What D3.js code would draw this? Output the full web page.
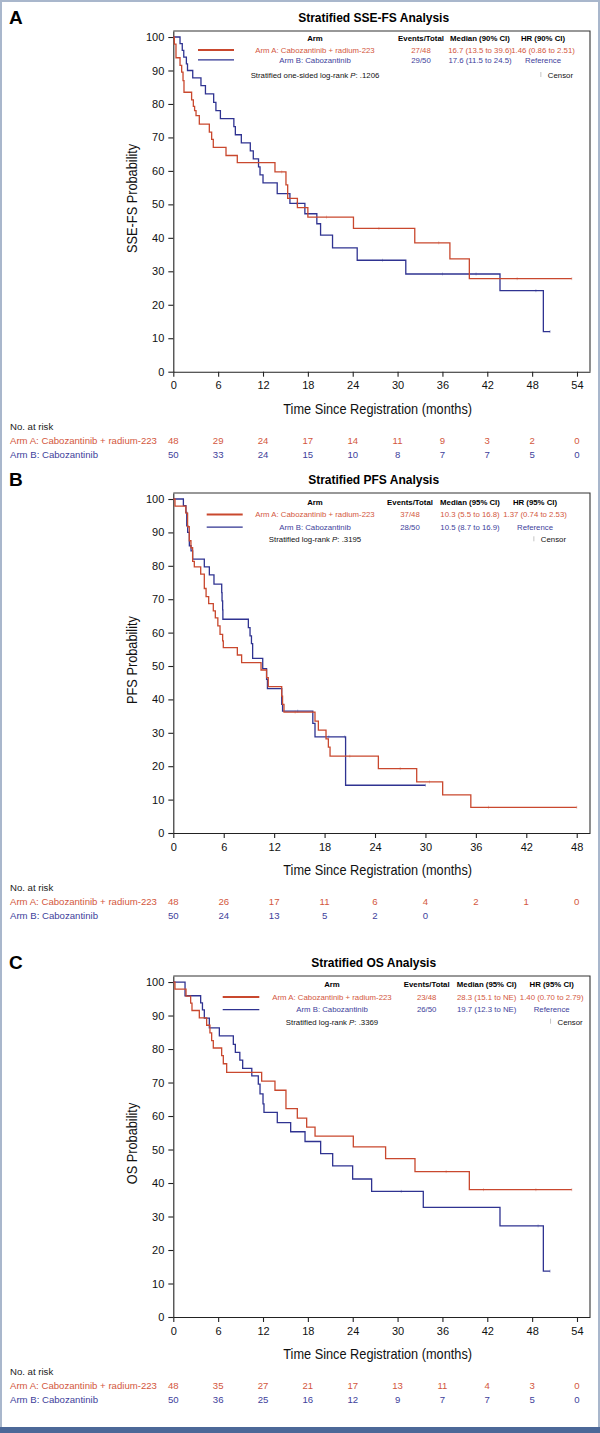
<!DOCTYPE html>
<html>
<head>
<meta charset="utf-8">
<script src="https://cdn.jsdelivr.net/npm/d3@7"></script>
<style>
  body { margin: 0; background: #fff; }
  svg { display: block; font-family: "Liberation Sans", Arial, sans-serif; }
</style>
</head>
<body>
<svg id="fig" width="600" height="1433"></svg>
<script>
// ---- data ----
const armNames = ["Arm A: Cabozantinib + radium-223", "Arm B: Cabozantinib"];
const monthsLong = [0, 6, 12, 18, 24, 30, 36, 42, 48, 54];
const monthsShort = [0, 6, 12, 18, 24, 30, 36, 42, 48];
const probTicks = [0, 10, 20, 30, 40, 50, 60, 70, 80, 90, 100];

// SSE-FS, [months, probability %], last point = end of follow-up
const sseArmA = [[0,100],[0.14,97.9],[0.36,93.8],[0.9,91.5],[1.12,89.5],[1.3,87],[1.43,83.5],[2.45,81.2],[2.68,79.3],[2.85,78],[3.04,76.5],[3.48,74],[4.82,71.6],[5.13,69.4],[5.35,67],[7.05,64.6],[8.56,62.5],[13.6,59.7],[15.07,55.8],[15.3,51.8],[16.6,49.0],[18.0,46.2],[24.1,42.8],[32.3,38.5],[37.0,33.7],[39.6,27.8],[53.3,27.8]];
const sseArmB = [[0,100],[0.9,98],[1.2,96],[1.4,94],[1.75,92],[1.9,90],[2.6,87.8],[3.7,85.5],[4.3,83],[5.4,80.5],[5.7,78],[6.3,75.6],[8.1,73.2],[8.3,70.8],[9.1,68.4],[10.3,66],[10.7,63.6],[11.4,61.2],[11.6,58.8],[12.0,56.4],[13.9,53.2],[15.6,50.3],[17.6,47.2],[19.2,44.2],[19.7,40.8],[21.3,37],[24.6,33.3],[31.1,29.2],[43.7,24.2],[49.5,12],[50.4,12]];
const sseCensA = [14.5, 20.5, 27.5, 35.5, 46, 53.3];
const sseCensB = [16.5, 28, 36, 40.5, 48.5, 50.4];
const sseRiskA = [48, 29, 24, 17, 14, 11, 9, 3, 2, 0];
const sseRiskB = [50, 33, 24, 15, 10, 8, 7, 7, 5, 0];
const sseStatsA = ["27/48", "16.7 (13.5 to 39.6)", "1.46 (0.86 to 2.51)"];
const sseStatsB = ["29/50", "17.6 (11.5 to 24.5)", "Reference"];

// PFS
const pfsArmA = [[0,100],[0.2,97.9],[1.5,95.8],[1.7,91.7],[1.9,87.5],[2.1,85.4],[2.3,81.3],[2.5,79.7],[3.26,77.5],[3.69,73.2],[3.9,70.8],[4.21,68.7],[4.76,66.5],[5.0,64.4],[5.3,62],[5.56,59.5],[5.87,57.5],[5.95,55.5],[7.62,53.3],[8.13,51],[10.44,48.8],[11.1,46.5],[11.3,43.8],[12.9,41],[13.0,38.5],[13.17,36.2],[16.86,33.5],[17.26,30.8],[18.17,28.2],[18.45,25.7],[18.65,23],[24.4,19.3],[28.96,15.3],[32.05,11.4],[35.4,7.7],[48,7.7]];
const pfsArmB = [[0,100],[1.2,98],[1.5,96],[1.6,92],[1.71,90],[1.91,86],[2.11,84.5],[2.3,82],[3.69,79.7],[4.29,77.3],[4.84,74.5],[5.76,72],[5.8,69.5],[5.87,66.8],[5.9,64],[8.93,61.5],[9.13,59],[9.3,56.7],[9.44,52.3],[10.64,49.2],[11.1,46],[11.2,43.2],[12.9,38.5],[13.0,36.5],[16.6,32.8],[16.86,28.8],[20.5,14.3],[30.0,14.3]];
const pfsCensA = [14.5, 21, 27, 30.5, 37.5, 48];
const pfsCensB = [14.8, 18.5, 20.4, 30.0];
const pfsRiskA = [48, 26, 17, 11, 6, 4, 2, 1, 0];
const pfsRiskB = [50, 24, 13, 5, 2, 0];
const pfsStatsA = ["37/48", "10.3 (5.5 to 16.8)", "1.37 (0.74 to 2.53)"];
const pfsStatsB = ["28/50", "10.5 (8.7 to 16.9)", "Reference"];

// OS
const osArmA = [[0,100],[0.22,97.9],[1.7,95.8],[2.32,93.7],[2.5,91.5],[3.48,89.3],[4.46,87.1],[4.9,84.8],[5.13,82.5],[5.35,80.3],[6.47,78],[6.69,75.6],[7.14,73],[11.82,70.4],[13.6,67.7],[15.07,62.2],[16.59,59.4],[17.84,56.7],[18.96,54],[24.08,50.8],[28.4,47.3],[32.33,43.4],[39.6,38],[53.3,38]];
const osArmB = [[0,100],[1.57,95.9],[3.66,93.8],[3.9,91.7],[4.15,89.2],[4.82,86.3],[6.16,83.9],[8.03,81.4],[8.3,79],[8.9,76.7],[9.28,74.2],[10.5,72],[11.37,69.5],[11.6,66.6],[12.0,63.6],[12.13,61.1],[13.91,58],[15.7,55.3],[17.62,52.4],[19.71,48.8],[21.32,45.1],[23.99,41.2],[26.53,37.5],[33.44,32.7],[43.7,27.2],[49.5,13.7],[50.4,13.7]];
const osCensA = [36.5, 41.5, 48.5, 53.3];
const osCensB = [30.5, 48.8, 50.4];
const osRiskA = [48, 35, 27, 21, 17, 13, 11, 4, 3, 0];
const osRiskB = [50, 36, 25, 16, 12, 9, 7, 7, 5, 0];
const osStatsA = ["23/48", "28.3 (15.1 to NE)", "1.40 (0.70 to 2.79)"];
const osStatsB = ["26/50", "19.7 (12.3 to NE)", "Reference"];

// ---- layout ----
const RED = "#c9482e", RED_TXT = "#d3573d";
const BLUE = "#2f3391", BLUE_TXT = "#3e419b";
const X0 = 173.3, XR = 590;
const NARROW = 0.85; // the figure uses a condensed face

const panels = [
  { letter: "A", title: "Stratified SSE-FS Analysis", yLabel: "SSE-FS Probability",
    top: 31, y0: 371.7, xMax: 55.74, ticks: monthsLong,
    armA: sseArmA, armB: sseArmB, censA: sseCensA, censB: sseCensB,
    riskA: sseRiskA, riskB: sseRiskB, statsA: sseStatsA, statsB: sseStatsB,
    ci: "90% CI", pText: "Stratified one-sided log-rank ", pVal: ": .1206",
    lg: { x1: 198, x2: 234, arm: 315, ev: 421, med: 480, hr: 543, cens: 573, rows: [9.5, 21.5, 31.5, 47] } },
  { letter: "B", title: "Stratified PFS Analysis", yLabel: "PFS Probability",
    top: 493, y0: 833, xMax: 49.58, ticks: monthsShort,
    armA: pfsArmA, armB: pfsArmB, censA: pfsCensA, censB: pfsCensB,
    riskA: pfsRiskA, riskB: pfsRiskB, statsA: pfsStatsA, statsB: pfsStatsB,
    ci: "95% CI", pText: "Stratified log-rank ", pVal: ": .3195",
    lg: { x1: 206.7, x2: 242.7, arm: 315, ev: 410, med: 470, hr: 535, cens: 566, rows: [11.5, 24, 36.7, 49.3] } },
  { letter: "C", title: "Stratified OS Analysis", yLabel: "OS Probability",
    top: 976, y0: 1317, xMax: 55.74, ticks: monthsLong,
    armA: osArmA, armB: osArmB, censA: osCensA, censB: osCensB,
    riskA: osRiskA, riskB: osRiskB, statsA: osStatsA, statsB: osStatsB,
    ci: "95% CI", pText: "Stratified log-rank ", pVal: ": .3369",
    lg: { x1: 222.7, x2: 259.3, arm: 332, ev: 426.7, med: 486.7, hr: 551.7, cens: 582.7, rows: [11, 23.7, 36.3, 48.7] } }
];

const svg = d3.select("#fig");

// outer frame + bottom bar
svg.append("rect").attr("x", 1).attr("y", 1).attr("width", 598).attr("height", 1430)
  .attr("fill", "none").attr("stroke", "#a9b7cc").attr("stroke-width", 2);
svg.append("rect").attr("x", 0).attr("y", 1427).attr("width", 600).attr("height", 6).attr("fill", "#4c6898");

function levelAt(curve, t) {
  let s = curve[0][1];
  for (const p of curve) { if (p[0] <= t) s = p[1]; else break; }
  return s;
}

function condense(sel) {
  const w = sel.node().getComputedTextLength();
  sel.attr("textLength", w * NARROW).attr("lengthAdjust", "spacingAndGlyphs");
}

panels.forEach(p => {
  const g = svg.append("g");
  const x = d3.scaleLinear().domain([0, p.xMax]).range([X0, XR]);
  const y = d3.scaleLinear().domain([0, 101.8]).range([p.y0, p.top]);

  // letter and title
  g.append("text").attr("x", 9).attr("y", p.top - 7)
    .attr("font-size", 19).attr("font-weight", "bold").text(p.letter);
  g.append("text").attr("x", (X0 + XR) / 2 - 8).attr("y", p.top - 9)
    .attr("text-anchor", "middle").attr("font-size", 12).attr("font-weight", "bold").text(p.title);

  // axes
  const xAxis = g.append("g").attr("transform", `translate(0,${p.y0})`)
    .call(d3.axisBottom(x).tickValues(p.ticks).tickSize(5).tickSizeOuter(0).tickPadding(5));
  const yAxis = g.append("g").attr("transform", `translate(${X0},0)`)
    .call(d3.axisLeft(y).tickValues(probTicks).tickSize(5).tickSizeOuter(0).tickPadding(4));
  [xAxis, yAxis].forEach(a => {
    a.selectAll("path,line").attr("stroke", "#222").attr("stroke-width", 1.1);
    a.selectAll("text").attr("font-size", 11).attr("fill", "#111").attr("font-family", null);
  });
  // top and right frame
  g.append("path").attr("d", `M${X0},${p.top}H${XR}V${p.y0}`)
    .attr("fill", "none").attr("stroke", "#333").attr("stroke-width", 1.1);

  // axis titles
  g.append("text").attr("x", (X0 + XR) / 2 - 4).attr("y", p.y0 + 42)
    .attr("text-anchor", "middle").attr("font-size", 15).attr("fill", "#111")
    .text("Time Since Registration (months)").call(condense);
  g.append("text")
    .attr("transform", `translate(137,${(p.y0 + p.top) / 2 - 3}) rotate(-90)`)
    .attr("text-anchor", "middle").attr("font-size", 15).attr("fill", "#111")
    .text(p.yLabel).call(condense);

  // KM curves
  const line = d3.line().x(d => x(d[0])).y(d => y(d[1])).curve(d3.curveStepAfter);
  [[p.armB, BLUE, p.censB], [p.armA, RED, p.censA]].forEach(([curve, col, cens]) => {
    g.append("path").datum(curve).attr("d", line)
      .attr("fill", "none").attr("stroke", col).attr("stroke-width", 1.3);
    g.selectAll(null).data(cens).join("line")
      .attr("x1", d => x(d)).attr("x2", d => x(d))
      .attr("y1", d => y(levelAt(curve, d)) - 1.5).attr("y2", d => y(levelAt(curve, d)) + 1.5)
      .attr("stroke", col).attr("stroke-width", 0.7).attr("opacity", 0.45);
  });

  // legend table
  const L = p.lg, T = p.top;
  const lg = g.append("g").attr("font-size", 7.8);
  const head = lg.append("g").attr("font-weight", "bold").attr("text-anchor", "middle");
  [["Arm", L.arm], ["Events/Total", L.ev], [`Median (${p.ci})`, L.med], [`HR (${p.ci})`, L.hr]]
    .forEach(([t, cx]) => head.append("text").attr("x", cx).attr("y", T + L.rows[0]).text(t));
  [[p.statsA, RED, RED_TXT, armNames[0], 1, 2], [p.statsB, BLUE, BLUE_TXT, armNames[1], 2, 1.3]]
    .forEach(([st, col, tc, name, r, w]) => {
      const yy = T + L.rows[r];
      lg.append("line").attr("x1", L.x1).attr("x2", L.x2).attr("y1", yy - 2.6).attr("y2", yy - 2.6)
        .attr("stroke", col).attr("stroke-width", w);
      [name, ...st].forEach((t, i) => lg.append("text").attr("x", [L.arm, L.ev, L.med, L.hr][i])
        .attr("y", yy).attr("text-anchor", "middle").attr("fill", tc).text(t));
    });
  const pt = lg.append("text").attr("x", L.arm).attr("y", T + L.rows[3]).attr("text-anchor", "middle").attr("fill", "#111");
  pt.append("tspan").text(p.pText);
  pt.append("tspan").attr("font-style", "italic").text("P");
  pt.append("tspan").text(p.pVal);
  const cen = lg.append("text").attr("x", L.cens).attr("y", T + L.rows[3]).attr("text-anchor", "end")
    .attr("fill", "#111").text("Censor");
  const cw = cen.node().getComputedTextLength();
  lg.append("line").attr("x1", L.cens - cw - 7).attr("x2", L.cens - cw - 7)
    .attr("y1", T + L.rows[3] - 6).attr("y2", T + L.rows[3] - 1).attr("stroke", "#aaa").attr("stroke-width", 0.7);

  // number at risk
  const rk = g.append("g").attr("font-size", 9.6);
  rk.append("text").attr("x", 10).attr("y", p.y0 + 58).attr("fill", "#222").text("No. at risk");
  [[p.riskA, RED_TXT, armNames[0], 72], [p.riskB, BLUE_TXT, armNames[1], 86]].forEach(([vals, tc, name, dy]) => {
    rk.append("text").attr("x", 10).attr("y", p.y0 + dy).attr("fill", tc).text(name);
    rk.selectAll(null).data(vals).join("text")
      .attr("x", (d, i) => x(p.ticks[i])).attr("y", p.y0 + dy)
      .attr("text-anchor", "middle").attr("fill", tc).text(d => d);
  });
});
</script>
</body>
</html>
